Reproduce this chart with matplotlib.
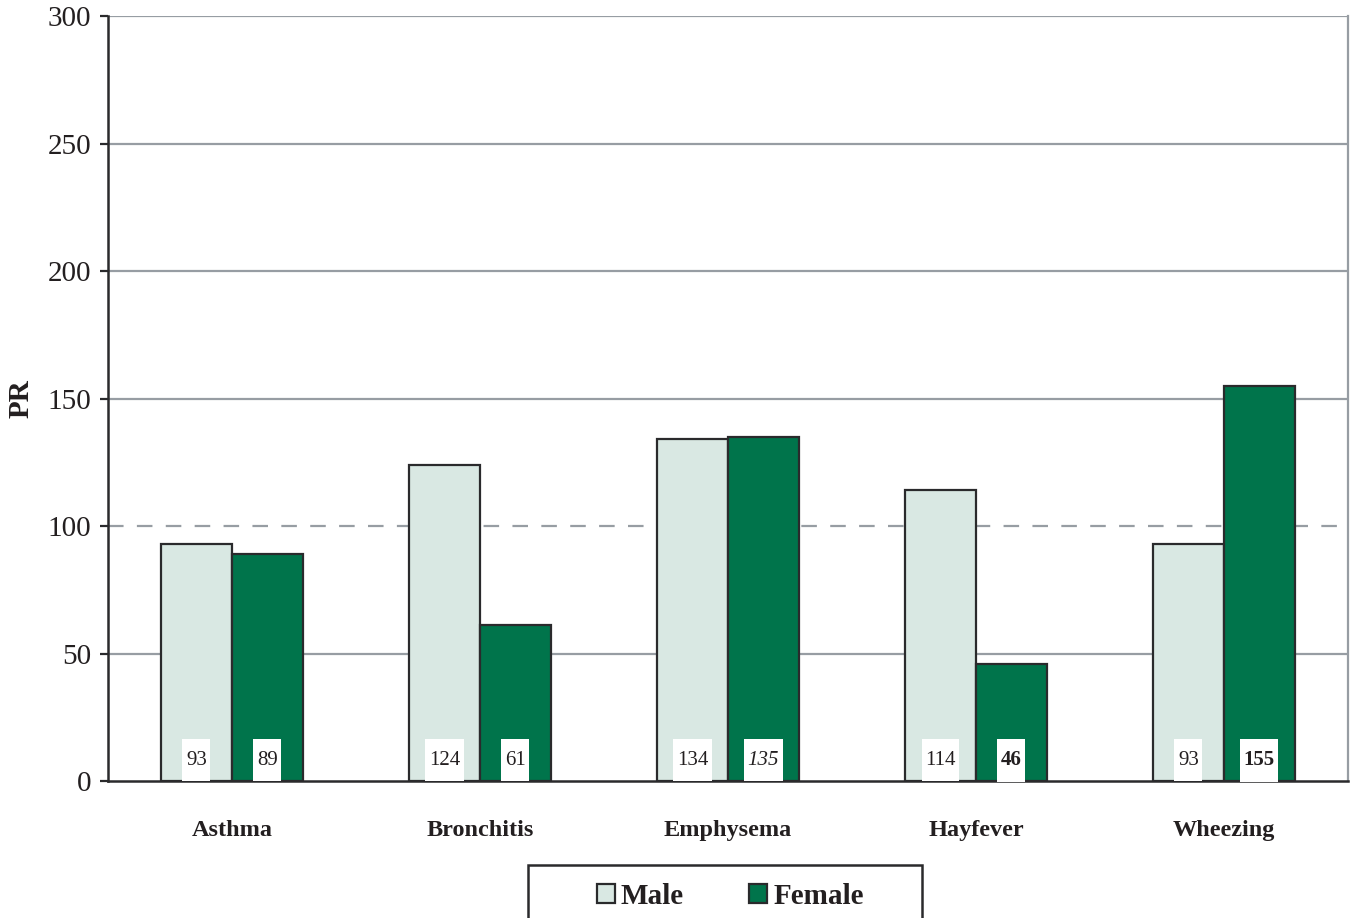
import numpy as np
import matplotlib
matplotlib.use('Agg')
from matplotlib import pyplot as plt
from matplotlib.patches import Rectangle
from matplotlib.path import Path

categories = ['Asthma', 'Bronchitis', 'Emphysema', 'Hayfever', 'Wheezing']
male = [93, 124, 134, 114, 93]
female = [89, 61, 135, 46, 155]
# how the female value label is styled in the source (normal / italic / bold)
female_style = ['normal', 'normal', 'italic', 'bold', 'bold']
y_ticks = [0, 50, 100, 150, 200, 250, 300]

male_color = '#d9e8e3'
female_color = '#00744b'
edge = '#2a2a2c'
grid_color = '#979da3'

plt.rcParams['font.family'] = ['Liberation Serif', 'DejaVu Serif']


def label_box(x0, y0, width, height, mutation_size):
    # white box, taller padding than wide
    px = 0.17 * mutation_size
    py = 0.55 * mutation_size
    x0, y0 = x0 - px, y0 - py
    x1, y1 = x0 + width + 2 * px, y0 + height + 2 * py
    return Path([(x0, y0), (x1, y0), (x1, y1), (x0, y1), (x0, y0)], closed=True)


fig = plt.figure(figsize=(13.51, 9.18), dpi=100)
ax = fig.add_axes([0.0799, 0.1492, 0.9178, 0.8333])

x = np.arange(len(categories))
w = 0.286
ax.bar(x - w / 2, male, w, color=male_color, edgecolor=edge, linewidth=1.6, zorder=3, label='Male')
ax.bar(x + w / 2, female, w, color=female_color, edgecolor=edge, linewidth=1.6, zorder=3, label='Female')

# grid: solid lines, dashed reference at 100
for v in y_ticks[1:]:
    if v == 100:
        ax.axhline(v, color=grid_color, lw=1.6, ls=(0, (7, 6)), zorder=1)
    else:
        ax.axhline(v, color=grid_color, lw=1.6, zorder=1)

# value labels in white boxes near the bottom of bars
for i in range(len(categories)):
    ax.text(x[i] - w / 2, 8.2, str(male[i]), ha='center', va='center', fontsize=15,
            color='#231f20', zorder=5,
            bbox=dict(boxstyle=label_box, fc='white', ec='none'))
    st = female_style[i]
    ax.text(x[i] + w / 2, 8.2, str(female[i]), ha='center', va='center', fontsize=15,
            color='#231f20', zorder=5,
            fontstyle='italic' if st == 'italic' else 'normal',
            fontweight='bold' if st == 'bold' else 'normal',
            bbox=dict(boxstyle=label_box, fc='white', ec='none'))

ax.set_xlim(-0.5, len(categories) - 0.5)
ax.set_ylim(0, 300)
ax.set_yticks(y_ticks)
ax.set_xticks(x)
ax.set_xticklabels(categories, fontsize=17.5, fontweight='bold', color='#231f20')
ax.tick_params(axis='x', length=0, pad=28)
ax.tick_params(axis='y', length=6, width=1.6, color=edge, labelsize=21, pad=6, labelcolor='#231f20')
ax.set_ylabel('PR', fontsize=21, fontweight='bold', color='#231f20', labelpad=9)

ax.spines['top'].set_visible(False)
ax.spines['right'].set_color(grid_color)
ax.spines['right'].set_linewidth(1.6)
for s in ['left', 'bottom']:
    ax.spines[s].set_color(edge)
    ax.spines[s].set_linewidth(1.8)
    ax.spines[s].set_zorder(4)

# legend frame drawn separately (runs off the bottom edge)
fig.patches.append(Rectangle((0.3908, -0.03), 0.2916, 0.0877, transform=fig.transFigure,
                             fill=False, ec=edge, lw=1.8))
fig.legend(loc='center', bbox_to_anchor=(0.5405, 0.0235), ncol=2, frameon=False,
           prop=dict(family='Liberation Serif', weight='bold', size=21),
           handlelength=0.62, handleheight=0.62, handletextpad=0.2, columnspacing=2.25,
           labelcolor='#231f20')

fig.savefig('out.png', dpi=100)
